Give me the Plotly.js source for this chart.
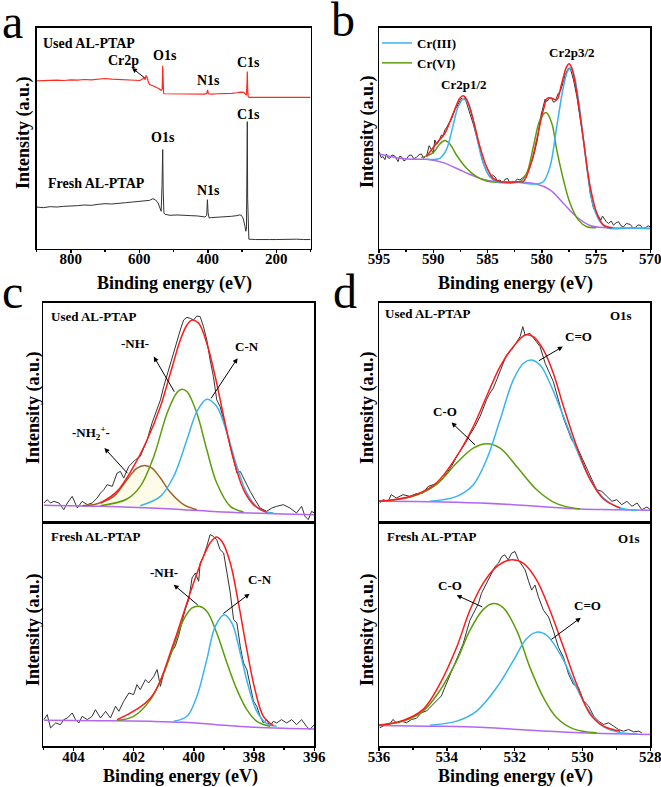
<!DOCTYPE html>
<html>
<head>
<meta charset="utf-8">
<script src="https://cdn.plot.ly/plotly-3.0.1.min.js"></script>
<style>html,body{margin:0;padding:0;background:#fff;}#chart{width:661px;height:787px;}</style>
</head>
<body>
<div id="chart"></div>
<script>
// ---------- Panel a: survey spectra ----------
var aUsedE = [900,880,860,840,820,800,780,760,740,720,700,680,660,640,620,605,598,592,588,585,583,580,577,574,570,560,550,542,536,533,531.5,530.5,529,527,510,490,470,450,430,410,403,400.5,398,390,370,350,330,315,305,295,290,287,285.5,284.5,283.5,282,279,260,240,220,200,180,160,140,120,100];
var aUsedI = [505,506,505,507,506,508,507,509,508,510,512,510,509,510,508,507,506,510,512,516,508,521,515,503,494,490,486,481,476,480,550,490,468,466,466,465,466,465,464,465,467,478,466,465,466,466,467,469,471,470,466,462,495,533,480,458,455,455,456,455,456,455,456,455,456,455];
var aFreshE = [900,880,860,840,820,800,780,760,740,720,700,680,660,640,620,600,585,570,560,552,545,540,536,533.5,531.5,530,528,525,510,490,470,450,430,415,408,403,401,399,396,390,370,350,330,315,308,302,297,292,289,287,285.5,284.5,283.5,282,280,260,240,220,200,180,160,140,120,100];
var aFreshI = [125,123,126,125,127,127,129,131,130,133,135,134,137,138,140,142,143,145,150,146,137,122,112,190,298,170,107,103,100,101,99,99,98,97,95,100,147,108,92,93,94,95,97,99,101,100,92,70,52,58,200,382,150,40,28,27,28,27,27,28,27,28,27,27];
var aTicks = [800,600,400,200];

// ---------- Panel b: Cr 2p ----------
var bRawE = [595.0,594.8,594.63,594.45,594.32,594.15,594.01,593.8,593.55,593.4,593.24,593.1,592.94,592.7,592.48,592.25,592.01,591.8,591.55,591.3,591.09,590.9,590.78,590.6,590.38,590.17,590.0,589.86,589.7,589.55,589.4,589.24,589.1,588.93,588.78,588.63,588.47,588.32,588.16,588.01,587.86,587.70,587.55,587.39,587.24,587.09,586.87,586.63,586.32,586.01,585.70,585.39,585.09,584.78,584.55,584.32,584.1,583.85,583.6,583.39,583.15,582.93,582.7,582.47,582.25,582.01,581.8,581.55,581.3,581.08,580.9,580.71,580.41,580.10,579.9,579.70,579.55,579.39,579.24,579.08,578.92,578.77,578.62,578.47,578.3,578.16,578.0,577.85,577.7,577.54,577.33,577.08,576.77,576.46,576.16,575.85,575.54,575.23,574.92,574.75,574.56,574.4,574.25,574.05,573.85,573.6,573.39,573.15,572.92,572.7,572.46,572.2,571.85,571.6,571.38,571.15,570.92,570.7,570.46,570.2,570.0];
var bRawI = [290,272,275,266,283,271,270,280,277,268,260,276,275,262,267,278,280,269,273,281,283,270,275,279,308,297,285,325,312,317,328,340,337,355,362,373,380,387,403,415,422,435,442,450,445,452,430,400,373,335,293,255,230,213,220,215,203,205,196,207,210,195,201,200,208,205,211,217,230,247,262,283,325,395,425,447,440,445,452,449,438,440,455,465,470,483,500,520,530,540,535,505,455,395,325,245,165,120,105,95,85,97,90,80,75,82,70,77,80,68,65,75,72,62,63,70,70,60,62,68,65];
var bBgE = [595.0,593.4,592.0,590.6,589.1,587.2,585.7,584.2,582.3,580.5,579.2,578.0,576.8,575.5,574.0,572.0,570.0];
var bBgI = [283,272,267,267,257,230,210,200,198,193,175,135,95,68,62,61,60];
var bCr3E = [590.6,589.4,588.8,588.2,587.7,587.24,586.78,586.32,585.86,585.39,584.78,584.16,582.3,580.47,579.85,579.24,578.62,578.0,577.63,577.39,577.08,576.62,576.16,575.69,575.23,574.62,574.0,572.0,570.0];
var bCr3I = [267,270,295,365,425,447,435,385,315,255,215,200,198,193,200,245,365,485,530,540,525,445,325,205,125,80,62,61,60];
var bCr6E = [591.1,590.0,589.4,588.93,588.47,587.86,586.93,586.01,585.09,584.2,582.01,581.39,580.78,580.16,579.61,579.08,578.62,578.0,577.39,576.62,575.85,575.0];
var bCr6I = [272,287,313,323,313,280,240,215,202,198,200,225,305,385,407,375,295,205,135,85,65,62];
var bFitE = [590.63,589.70,588.93,588.16,587.55,587.24,586.93,586.32,585.70,585.09,584.47,583.85,582.0,581.7,581.08,580.47,579.85,579.48,579.08,578.62,578.16,577.70,577.48,577.23,576.77,576.16,575.54,574.92,574.31,573.5];
var bFitI = [275,315,345,405,450,457,447,385,305,245,210,200,200,200,245,325,415,450,450,445,495,545,553,540,465,325,185,105,70,62];
var bTicks = [595,590,585,580,575,570];

// ---------- Panel c: N 1s ----------
var cUsedE = [404.98,404.87,404.76,404.65,404.48,404.32,404.20,404.04,403.87,403.71,403.54,403.38,403.21,403.10,402.99,402.88,402.71,402.55,402.44,402.33,402.16,402.05,401.94,401.78,401.55,401.39,401.22,401.11,401.00,400.89,400.78,400.67,400.56,400.45,400.34,400.23,400.12,400.01,399.90,399.79,399.68,399.57,399.46,399.35,399.24,399.13,399.01,398.90,398.79,398.68,398.57,398.46,398.30,398.13,397.97,397.80,397.58,397.41,397.25,397.03,396.81,396.59,396.42,396.31,396.20,396.09,396.00];
var cUsedI = [58,68,58,63,58,38,58,78,43,63,53,58,73,88,98,113,108,148,153,133,168,178,188,198,248,298,338,368,408,443,478,508,548,578,608,616,613,608,620,618,588,548,488,438,368,348,308,268,228,188,148,153,123,93,68,43,33,43,48,53,43,28,48,18,8,33,28];
var cUsedBgE = [404.98,403.10,401.44,400.34,399.24,398.13,397.03,396.00];
var cUsedBgI = [51,48,43,38,32,28,25,23];
var cUsedNH2E = [403.7,403.21,402.66,402.22,401.89,401.64,401.39,401.11,400.78,400.34,399.90];
var cUsedNH2I = [50,56,78,128,163,171,163,133,90,53,38];
var cUsedNHE = [403.10,402.22,401.78,401.33,400.89,400.56,400.40,400.23,399.90,399.57,399.24,398.79,398.35];
var cUsedNHI = [50,70,108,198,328,390,400,393,328,218,118,48,31];
var cUsedCNE = [401.78,401.11,400.67,400.23,399.90,399.57,399.24,398.90,398.57,398.24,397.80,397.36];
var cUsedCNI = [50,78,138,248,333,370,348,268,168,88,38,28];
var cUsedFitE = [403.10,402.55,402.00,401.55,401.11,400.78,400.45,400.23,400.06,399.84,399.57,399.29,399.01,398.68,398.35,398.02,397.58];
var cUsedFitI = [58,93,168,248,348,448,548,593,608,598,538,438,318,188,98,53,30];

var cFreshE = [404.98,404.87,404.76,404.59,404.43,404.32,404.20,404.04,403.93,403.82,403.71,403.54,403.38,403.27,403.10,402.93,402.77,402.60,402.49,402.33,402.16,402.00,401.89,401.78,401.61,401.50,401.33,401.22,401.11,401.00,400.84,400.73,400.62,400.51,400.40,400.29,400.17,400.06,399.95,399.84,399.79,399.68,399.57,399.46,399.35,399.24,399.13,399.01,398.90,398.79,398.68,398.57,398.46,398.35,398.24,398.13,398.02,397.91,397.80,397.69,397.58,397.47,397.36,397.25,397.09,396.92,396.75,396.59,396.42,396.26,396.15,396.00];
var cFreshI = [80,95,55,70,65,80,85,100,80,70,90,80,90,110,85,105,85,120,105,135,160,155,185,170,200,190,210,230,180,220,260,285,300,330,370,410,440,505,520,495,550,570,600,635,630,620,590,580,520,460,380,370,300,250,230,180,135,120,90,70,80,60,75,70,80,70,80,65,80,60,50,65];
var cFreshBgE = [404.98,403.10,401.44,400.34,399.24,398.13,397.03,396.00];
var cFreshBgI = [78,77,75,72,65,58,54,52];
var cFreshNHE = [402.55,402.00,401.44,401.00,400.67,400.34,400.06,399.82,399.57,399.24,398.90,398.57,398.24,397.91,397.47];
var cFreshNHI = [78,90,140,220,300,380,415,420,405,340,250,170,110,75,60];
var cFreshCNE = [400.67,400.23,399.90,399.57,399.29,398.99,398.74,398.46,398.19,397.91,397.58,397.25];
var cFreshCNI = [75,90,150,260,360,395,370,280,180,105,68,60];
var cFreshFitE = [402.55,401.44,400.67,400.34,400.01,399.68,399.46,399.26,399.07,398.79,398.52,398.24,397.97,397.69,397.36];
var cFreshFitI = [80,145,310,400,490,570,610,628,615,550,430,290,170,90,62];
var cTicks = [404,402,400,398,396];

// ---------- Panel d: O 1s ----------
var dUsedE = [535.98,535.88,535.73,535.64,535.49,535.29,535.09,534.90,534.70,534.55,534.40,534.26,534.11,534.01,533.86,533.71,533.57,533.42,533.32,533.17,533.02,532.83,532.73,532.63,532.53,532.38,532.24,532.09,531.94,531.84,531.76,531.69,531.55,531.40,531.25,531.10,530.96,530.86,530.71,530.56,530.41,530.32,530.17,530.02,529.87,529.72,529.58,529.43,529.28,529.13,528.99,528.84,528.69,528.54,528.39,528.25,528.10,528.00];
var dUsedI = [58,68,63,83,73,83,78,86,88,108,113,118,133,148,168,198,218,243,263,288,318,368,388,403,428,468,503,518,543,558,588,563,568,548,528,478,443,423,368,313,273,248,228,193,163,128,98,93,78,63,68,53,63,48,58,38,46,38];
var dUsedBgE = [536.00,534.50,533.02,532.04,531.05,530.07,529.08,528.00];
var dUsedBgI = [63,62,58,53,46,40,38,36];
var dUsedCOE = [536.00,535.00,534.31,533.71,533.22,532.81,532.43,531.94,531.35,530.76,530.07];
var dUsedCOI = [63,78,113,178,223,236,223,168,98,56,40];
var dUsedCdOE = [534.50,533.71,533.22,532.83,532.43,532.04,531.74,531.53,531.25,530.96,530.56,530.17,529.77,529.38,528.89,528.39];
var dUsedCdOI = [63,78,113,188,308,428,478,488,473,418,318,218,128,73,43,36];
var dUsedFitE = [536.00,535.00,534.31,533.71,533.22,532.83,532.43,532.04,531.69,531.45,531.15,530.86,530.56,530.17,529.77,529.38,528.89];
var dUsedFitI = [63,80,118,198,288,378,468,528,563,558,518,448,348,228,128,70,43];

var dFreshE = [535.98,535.83,535.68,535.59,535.49,535.34,535.19,535.04,534.90,534.75,534.60,534.45,534.31,534.16,534.06,533.91,533.76,533.62,533.52,533.42,533.32,533.22,533.07,532.98,532.88,532.78,532.68,532.58,532.48,532.38,532.29,532.19,532.09,531.99,531.89,531.79,531.69,531.60,531.50,531.40,531.30,531.15,531.00,530.86,530.71,530.56,530.41,530.27,530.12,529.97,529.82,529.67,529.53,529.38,529.23,529.08,528.94,528.79,528.64,528.49,528.34,528.25];
var dFreshI = [55,63,65,80,70,75,70,80,83,100,105,120,135,150,175,210,245,280,305,340,375,395,425,455,475,495,515,535,545,565,570,555,575,580,555,540,525,495,465,480,445,405,385,345,295,265,215,185,175,135,120,90,75,65,70,60,50,45,50,43,45,40];
var dFreshBgE = [536.00,534.50,533.02,532.04,531.05,530.07,529.08,528.00];
var dFreshBgI = [62,60,57,51,45,40,37,35];
var dFreshCOE = [536.00,535.29,534.70,534.21,533.71,533.32,532.93,532.63,532.34,531.94,531.55,531.15,530.76,530.27,529.58];
var dFreshCOI = [63,75,105,165,255,345,407,425,413,345,235,145,85,52,40];
var dFreshCdOE = [534.50,533.71,533.12,532.53,532.04,531.65,531.33,531.05,530.66,530.27,529.87,529.48,528.99,528.39];
var dFreshCdOI = [63,75,105,175,255,320,340,330,275,195,115,65,43,37];
var dFreshFitE = [536.00,535.29,534.70,534.21,533.71,533.32,532.93,532.53,532.14,531.74,531.35,530.96,530.56,530.17,529.77,529.38,528.89];
var dFreshFitI = [63,77,110,185,295,405,485,535,555,545,495,405,295,185,95,60,45];
var dTicks = [536,534,532,530,528];

// ---------- styles ----------
var FONT = 'Liberation Serif, Times New Roman, serif';
var C = {raw:'#333333', fit:'#ff1a1a', cr3:'#3ab4f0', cr6:'#5c9e0a', bg:'#b366f0', nh2:'#a0622d', used:'#ff2a1f'};

function tr(x, y, ax, color, width, opts) {
  var t = {x:x, y:y, xaxis:'x'+ax, yaxis:'y'+ax, mode:'lines', type:'scatter',
    line:{color:color, width:width}, showlegend:false, hoverinfo:'skip'};
  if (opts) for (var k in opts) t[k] = opts[k];
  return t;
}
function fitLine(x, y, ax, color, extra) {
  var o = {line:{color:color, width:1.5, shape:'spline', smoothing:1}};
  if (extra) for (var k in extra) o[k] = extra[k];
  return tr(x, y, ax, color, 1.5, o);
}

var data = [
  tr(aUsedE, aUsedI, '', C.used, 1.2),
  tr(aFreshE, aFreshI, '', C.raw, 1),

  tr(bRawE, bRawI, '2', C.raw, 1),
  fitLine(bBgE, bBgI, '2', C.bg),
  fitLine(bCr6E, bCr6I, '2', C.cr6, {name:'Cr(VI)', showlegend:true, legendrank:2}),
  fitLine(bCr3E, bCr3I, '2', C.cr3, {name:'Cr(III)', showlegend:true, legendrank:1}),
  fitLine(bFitE, bFitI, '2', C.fit),

  tr(cUsedE, cUsedI, '3', C.raw, 1),
  fitLine(cUsedBgE, cUsedBgI, '3', C.bg),
  fitLine(cUsedNH2E, cUsedNH2I, '3', C.nh2, {fill:'tonexty', fillcolor:'rgba(255,248,215,0.55)'}),
  fitLine(cUsedNHE, cUsedNHI, '3', C.cr6),
  fitLine(cUsedCNE, cUsedCNI, '3', C.cr3),
  fitLine(cUsedFitE, cUsedFitI, '3', C.fit),

  tr(cFreshE, cFreshI, '4', C.raw, 1),
  fitLine(cFreshBgE, cFreshBgI, '4', C.bg),
  fitLine(cFreshNHE, cFreshNHI, '4', C.cr6),
  fitLine(cFreshCNE, cFreshCNI, '4', C.cr3),
  fitLine(cFreshFitE, cFreshFitI, '4', C.fit),

  tr(dUsedE, dUsedI, '5', C.raw, 1),
  fitLine(dUsedBgE, dUsedBgI, '5', C.bg),
  fitLine(dUsedCOE, dUsedCOI, '5', C.cr6),
  fitLine(dUsedCdOE, dUsedCdOI, '5', C.cr3),
  fitLine(dUsedFitE, dUsedFitI, '5', C.fit),

  tr(dFreshE, dFreshI, '6', C.raw, 1),
  fitLine(dFreshBgE, dFreshBgI, '6', C.bg),
  fitLine(dFreshCOE, dFreshCOI, '6', C.cr6),
  fitLine(dFreshCdOE, dFreshCdOI, '6', C.cr3),
  fitLine(dFreshFitE, dFreshFitI, '6', C.fit)
];

var tickFont = {family:FONT, size:15, color:'#000', weight:'bold'};
function xa(domain, range, minor, showLabels, tickvals) {
  var o = {domain:domain, range:range, autorange:false, showgrid:false, zeroline:false,
    showline:true, mirror:true, linecolor:'#000', linewidth:1.5,
    ticks: showLabels ? 'outside' : '', ticklen:3, tickwidth:1.5, tickcolor:'#000',
    showticklabels:showLabels, tickfont:tickFont, fixedrange:true,
    tickmode:'array', tickvals:tickvals, ticklabeloverflow:'allow', ticklabelstandoff:-7};
  if (showLabels) o.minor = {ticks:'outside', ticklen:2, tickwidth:1.5, tickcolor:'#000', dtick:minor, tick0:0, showgrid:false};
  return o;
}
function ya(domain, range, anchor) {
  return {domain:domain, range:range, autorange:false, showgrid:false, zeroline:false,
    showline:true, mirror:true, linecolor:'#000', linewidth:1.5, ticks:'',
    showticklabels:false, anchor:anchor, fixedrange:true};
}

var P = function(px){ return 1 - px/787; };
var dxA = [36.5/661, 310.5/661], dxB = [379/661, 650.3/661], dxC = [43.3/661, 314.3/661];
var dyAB = [P(248.5), P(27.7)], dyTop = [P(522.3), P(302.7)], dyBot = [P(746.3), P(522.3)];

var layout = {
  width:661, height:787, autosize:false,
  margin:{l:0, r:0, t:0, b:0, pad:0},
  paper_bgcolor:'#fff', plot_bgcolor:'rgba(0,0,0,0)',
  font:{family:FONT, color:'#000'},
  xaxis:  Object.assign(xa(dxA, [900,100], 100, true, aTicks), {anchor:'y'}),
  yaxis:  ya(dyAB, [0,665], 'x'),
  xaxis2: Object.assign(xa(dxB, [595,570], 2.5, true, bTicks), {anchor:'y2'}),
  yaxis2: ya(dyAB, [0,661], 'x2'),
  xaxis3: Object.assign(xa(dxC, [405,396], 1, false, cTicks), {anchor:'y3'}),
  yaxis3: ya(dyTop, [0,660], 'x3'),
  xaxis4: Object.assign(xa(dxC, [405,396], 1, true, cTicks), {anchor:'y4'}),
  yaxis4: ya(dyBot, [0,672], 'x4'),
  xaxis5: Object.assign(xa(dxB, [536,528], 1, false, dTicks), {anchor:'y5'}),
  yaxis5: ya(dyTop, [0,660], 'x5'),
  xaxis6: Object.assign(xa(dxB, [536,528], 1, true, dTicks), {anchor:'y6'}),
  yaxis6: ya(dyBot, [0,667], 'x6'),
  legend:{x:377/661, y:P(28), xanchor:'left', yanchor:'top', bgcolor:'rgba(0,0,0,0)',
    font:{family:FONT, size:13, color:'#000', weight:'bold'}, itemwidth:30, traceorder:'normal',
    tracegroupgap:0},
  annotations:[]
};

var ann = layout.annotations;
function label(text, x, y, ax, size, xanchor) {
  ann.push({text:'<b>'+text+'</b>', x:x, y:y, xref:'x'+ax, yref:'y'+ax, showarrow:false,
    xanchor:xanchor||'center', yanchor:'middle', font:{family:FONT, size:size, color:'#000'}});
}
function arrow(xh, yh, xt, yt, ax) {
  ann.push({text:'', x:xh, y:yh, ax:xt, ay:yt, xref:'x'+ax, yref:'y'+ax, axref:'x'+ax, ayref:'y'+ax,
    showarrow:true, arrowhead:2, arrowsize:1, arrowwidth:1, arrowcolor:'#000', standoff:0, startstandoff:0});
}
function paperText(text, xpx, ypx, size, angle, bold, xanchor) {
  ann.push({text: bold ? '<b>'+text+'</b>' : text, x:xpx/661, y:P(ypx), xref:'paper', yref:'paper',
    showarrow:false, xanchor:xanchor||'center', yanchor:'middle', textangle:angle||0,
    font:{family:FONT, size:size, color:'#000'}});
}

// panel letters
paperText('a', 0, 21, 48, 0, false, 'left');
paperText('b', 329, 20, 48, 0, false, 'left');
paperText('c', 0, 292, 48, 0, false, 'left');
paperText('d', 331, 292, 48, 0, false, 'left');

// axis titles
paperText('Binding energy (eV)', 174, 283, 18, 0, true);
paperText('Binding energy (eV)', 515, 283, 18, 0, true);
paperText('Binding energy (eV)', 180, 776, 18, 0, true);
paperText('Binding energy (eV)', 515, 776, 18, 0, true);
paperText('Intensity (a.u.)', 23, 133, 18, -90, true);
paperText('Intensity (a.u.)', 367, 132, 18, -90, true);
paperText('Intensity (a.u.)', 33, 408, 18, -90, true);
paperText('Intensity (a.u.)', 33, 630, 18, -90, true);
paperText('Intensity (a.u.)', 367, 408, 18, -90, true);
paperText('Intensity (a.u.)', 367, 630, 18, -90, true);

// panel a labels
label('Used AL-PTAP', 886, 616, '', 14, 'left');
label('Cr2p', 645, 565, '', 14);
label('O1s', 525, 580, '', 14);
label('N1s', 397, 505, '', 14);
label('C1s', 280, 560, '', 14);
label('O1s', 532, 335, '', 14);
label('N1s', 398, 175, '', 14);
label('C1s', 282, 405, '', 14);
label('Fresh AL-PTAP', 872, 197, '', 14, 'left');
arrow(621, 544, 581, 511, '');

// panel b labels
label('Cr2p1/2', 587.2, 490, '2', 13);
label('Cr2p3/2', 577.2, 586, '2', 13);

// panel c labels
label('Used AL-PTAP', 404.81, 618, '3', 13, 'left');
label('-NH-', 401.94, 538, '3', 13);
label('C-N', 398.24, 528, '3', 13);
label('-NH<sub>2</sub><sup>+</sup>-', 403.41, 268, '3', 13);
arrow(401.33, 498, 400.62, 388, '3');
arrow(398.55, 493, 399.46, 368, '3');
arrow(402.97, 223, 402.16, 143, '3');
label('Fresh AL-PTAP', 404.81, 630, '4', 13, 'left');
label('-NH-', 401.00, 520, '4', 13);
label('C-N', 397.82, 500, '4', 13);
arrow(400.67, 485, 399.82, 420, '4');
arrow(398.15, 458, 399.07, 395, '4');

// panel d labels
label('Used AL-PTAP', 535.89, 629, '5', 13, 'left');
label('O1s', 528.86, 623, '5', 13);
label('C=O', 530.13, 558, '5', 13);
label('C-O', 534.06, 333, '5', 13);
arrow(530.58, 528, 531.33, 483, '5');
arrow(533.86, 300, 533.12, 228, '5');
label('Fresh AL-PTAP', 535.83, 625, '6', 13, 'left');
label('O1s', 528.62, 620, '6', 13);
label('C-O', 533.91, 480, '6', 13);
label('C=O', 529.84, 420, '6', 13);
arrow(533.71, 450, 532.91, 413, '6');
arrow(530.05, 383, 530.96, 315, '6');

Plotly.newPlot('chart', data, layout, {staticPlot:true, displayModeBar:false});
</script>
</body>
</html>
